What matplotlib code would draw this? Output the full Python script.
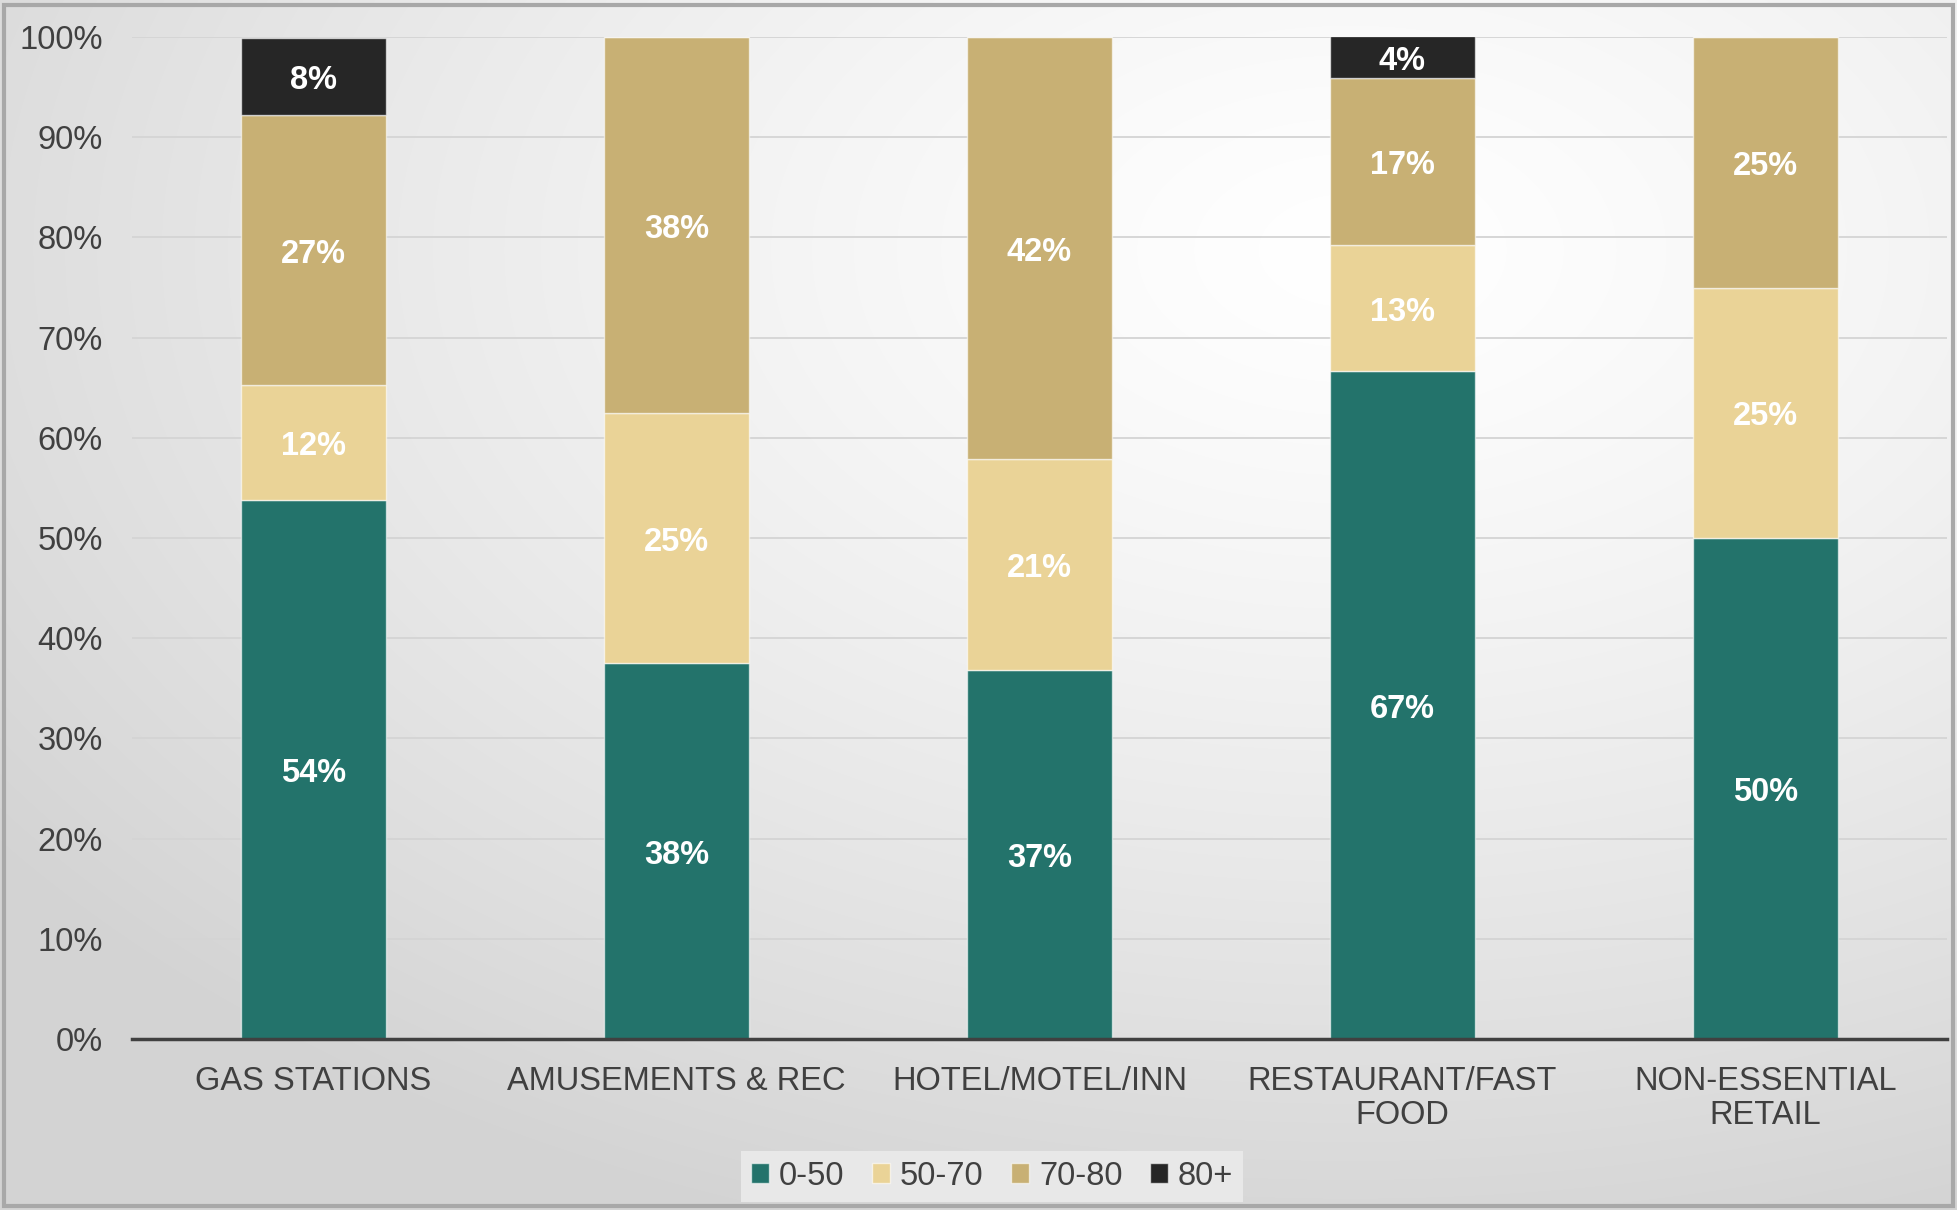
import numpy as np
import matplotlib.pyplot as plt
from matplotlib.patches import Rectangle

plt.rcParams['font.family'] = ['Liberation Sans', 'DejaVu Sans']

categories = ["GAS STATIONS", "AMUSEMENTS & REC", "HOTEL/MOTEL/INN",
              "RESTAURANT/FAST\nFOOD", "NON-ESSENTIAL\nRETAIL"]
groups = ["0-50", "50-70", "70-80", "80+"]

# share of each group per category, in percent
share_0_50 = [53.8, 37.5, 36.8, 66.7, 50.0]
share_50_70 = [11.5, 25.0, 21.1, 12.5, 25.0]
share_70_80 = [26.9, 37.5, 42.1, 16.7, 25.0]
share_80_plus = [7.7, 0.0, 0.0, 4.2, 0.0]

colors = ["#23736b", "#ead397", "#c8b074", "#262626"]
text_color = "#404040"

fig = plt.figure(figsize=(19.57, 12.10), dpi=100)

# soft radial background
bg = fig.add_axes([0, 0, 1, 1], zorder=-10)
yy, xx = np.mgrid[0:1210, 0:1957]
d = np.hypot((xx - 1350) / 1957, (yy - 250) / 1210)
shade = 1.0 - 0.17 * np.clip(d / 0.85, 0, 1) ** 1.3
bg.imshow(np.dstack([shade] * 3), aspect="auto", extent=[0, 1, 0, 1])
bg.set_xlim(0, 1)
bg.set_ylim(0, 1)
bg.axis("off")
fig.patches.append(Rectangle((0.002, 0.003), 0.996, 0.993, transform=fig.transFigure,
                             fill=False, edgecolor="#a8a8a8", linewidth=3, zorder=5))

ax = fig.add_axes([0.0674, 0.1413, 0.9275, 0.8281])
ax.set_facecolor("none")

x = np.arange(len(categories))
series = [share_0_50, share_50_70, share_70_80, share_80_plus]
bottom = np.zeros(len(categories))
for name, vals, col in zip(groups, series, colors):
    vals = np.array(vals)
    bars = ax.bar(x, vals, 0.4, bottom=bottom, color=col, label=name,
                  edgecolor=(1, 1, 1, 0.6), linewidth=1, zorder=3)
    for xi, v, b in zip(x, vals, bottom):
        if v > 0:
            ax.annotate(f"{int(v + 0.5)}%", (xi, b + v / 2), xytext=(0, -3),
                        textcoords="offset points", ha="center", va="center",
                        color="white", fontsize=23.5, fontweight="bold", zorder=4)
    bottom += vals

ax.set_xlim(-0.5, len(categories) - 0.5)
ax.set_ylim(0, 100)
ax.set_yticks(np.arange(0, 101, 10))
ax.set_yticklabels([f"{t}%" for t in range(0, 101, 10)])
ax.set_xticks(x)
ax.set_xticklabels(categories, linespacing=1.12)
ax.tick_params(axis="both", length=0, labelsize=23.5, colors=text_color)
ax.tick_params(axis="y", pad=21)
ax.tick_params(axis="x", pad=19.5)
ax.grid(axis="y", color="#d4d4d4", linewidth=1.3, zorder=0)
for s in ["top", "right", "left"]:
    ax.spines[s].set_visible(False)
ax.spines["bottom"].set_color("#404040")
ax.spines["bottom"].set_linewidth(2.5)
ax.spines["bottom"].set_zorder(5)

leg = fig.legend(loc="lower center", bbox_to_anchor=(0.507, 0.007), ncol=4,
                 fontsize=23.5, frameon=True, fancybox=False, handlelength=0.55,
                 handleheight=0.55, handletextpad=0.3, columnspacing=0.85,
                 borderpad=0.3, borderaxespad=0)
leg.get_frame().set_facecolor("#e8e8e8")
leg.get_frame().set_edgecolor("none")
leg.get_frame().set_alpha(1)
for t in leg.get_texts():
    t.set_color(text_color)

fig.savefig("out.png", dpi=100)
